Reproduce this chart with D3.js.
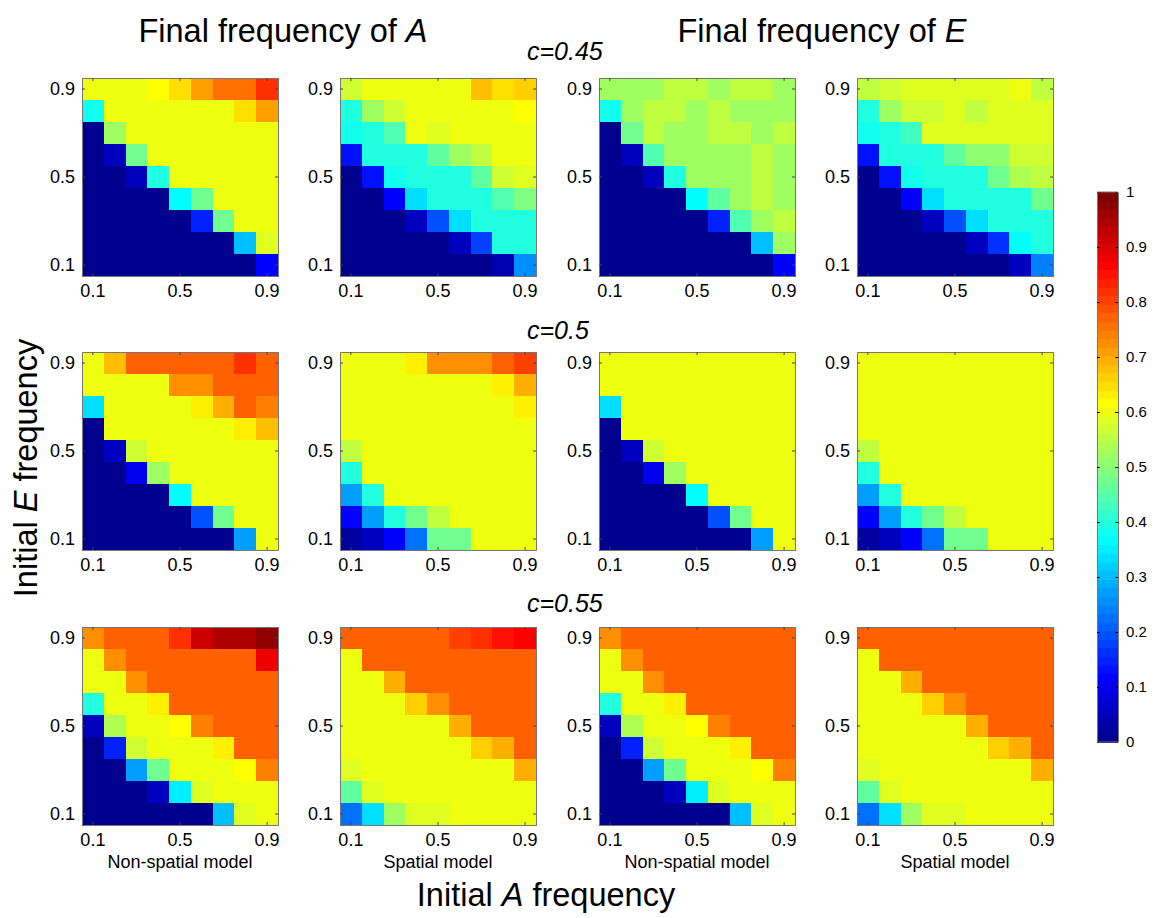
<!DOCTYPE html>
<html><head><meta charset="utf-8">
<script src="https://cdn.jsdelivr.net/npm/d3@7"></script>
<style>body{margin:0;background:#fff;} text{font-family:"Liberation Sans",Arial,sans-serif;}</style>
</head><body>
<svg id="chart" width="1164" height="918"></svg>
<script>
// ---- data (rows listed top to bottom: initial E = 0.9 ... 0.1; columns initial A = 0.1 ... 0.9)
const freqs = [0.1,0.2,0.3,0.4,0.5,0.6,0.7,0.8,0.9];
const tickVals = [0.1,0.5,0.9];
const cLabels = ["c=0.45","c=0.5","c=0.55"];
const modelLabels = ["Non-spatial model","Spatial model","Non-spatial model","Spatial model"];
const cbTicks = [0,0.1,0.2,0.3,0.4,0.5,0.6,0.7,0.8,0.9,1];

const A_nonSpatial_045 = [
 [0.60,0.60,0.60,0.62,0.65,0.71,0.75,0.75,0.82],
 [0.38,0.60,0.60,0.60,0.60,0.60,0.60,0.65,0.71],
 [0.00,0.52,0.60,0.60,0.60,0.60,0.60,0.60,0.60],
 [0.00,0.05,0.47,0.60,0.60,0.60,0.60,0.60,0.60],
 [0.00,0.00,0.05,0.40,0.60,0.60,0.60,0.60,0.60],
 [0.00,0.00,0.00,0.00,0.37,0.48,0.60,0.60,0.60],
 [0.00,0.00,0.00,0.00,0.00,0.15,0.48,0.60,0.60],
 [0.00,0.00,0.00,0.00,0.00,0.00,0.00,0.30,0.58],
 [0.00,0.00,0.00,0.00,0.00,0.00,0.00,0.00,0.12]];
const A_spatial_045 = [
 [0.57,0.60,0.60,0.60,0.60,0.60,0.68,0.65,0.67],
 [0.40,0.53,0.57,0.60,0.60,0.60,0.60,0.60,0.62],
 [0.39,0.40,0.44,0.60,0.58,0.60,0.60,0.60,0.60],
 [0.13,0.40,0.40,0.40,0.46,0.52,0.55,0.60,0.60],
 [0.00,0.13,0.38,0.40,0.40,0.40,0.46,0.57,0.58],
 [0.00,0.00,0.12,0.33,0.40,0.40,0.40,0.44,0.49],
 [0.00,0.00,0.00,0.05,0.20,0.33,0.40,0.40,0.40],
 [0.00,0.00,0.00,0.00,0.00,0.05,0.18,0.40,0.40],
 [0.00,0.00,0.00,0.00,0.00,0.00,0.00,0.04,0.25]];
const E_nonSpatial_045 = [
 [0.53,0.53,0.53,0.55,0.55,0.52,0.55,0.55,0.52],
 [0.38,0.52,0.55,0.55,0.52,0.55,0.52,0.52,0.52],
 [0.00,0.47,0.55,0.52,0.52,0.55,0.55,0.52,0.55],
 [0.00,0.05,0.45,0.52,0.52,0.52,0.52,0.55,0.52],
 [0.00,0.00,0.05,0.40,0.52,0.52,0.52,0.55,0.52],
 [0.00,0.00,0.00,0.00,0.37,0.46,0.52,0.55,0.52],
 [0.00,0.00,0.00,0.00,0.00,0.15,0.45,0.52,0.55],
 [0.00,0.00,0.00,0.00,0.00,0.00,0.00,0.30,0.52],
 [0.00,0.00,0.00,0.00,0.00,0.00,0.00,0.00,0.12]];
const E_spatial_045 = [
 [0.56,0.57,0.58,0.58,0.58,0.58,0.58,0.60,0.56],
 [0.40,0.52,0.57,0.57,0.58,0.56,0.58,0.58,0.58],
 [0.39,0.40,0.43,0.58,0.58,0.59,0.59,0.59,0.58],
 [0.13,0.40,0.40,0.40,0.46,0.50,0.51,0.57,0.57],
 [0.00,0.13,0.38,0.40,0.40,0.40,0.47,0.54,0.56],
 [0.00,0.00,0.12,0.33,0.40,0.40,0.40,0.40,0.48],
 [0.00,0.00,0.00,0.06,0.20,0.33,0.40,0.40,0.40],
 [0.00,0.00,0.00,0.00,0.00,0.06,0.17,0.37,0.40],
 [0.00,0.00,0.00,0.00,0.00,0.00,0.00,0.05,0.24]];
const A_nonSpatial_05 = [
 [0.60,0.68,0.78,0.78,0.78,0.78,0.78,0.82,0.78],
 [0.60,0.60,0.60,0.60,0.72,0.72,0.78,0.78,0.78],
 [0.33,0.60,0.60,0.60,0.60,0.64,0.70,0.78,0.74],
 [0.00,0.60,0.60,0.60,0.60,0.60,0.60,0.64,0.68],
 [0.00,0.05,0.57,0.60,0.60,0.60,0.60,0.60,0.60],
 [0.00,0.00,0.10,0.53,0.60,0.60,0.60,0.60,0.60],
 [0.00,0.00,0.00,0.00,0.37,0.60,0.60,0.60,0.60],
 [0.00,0.00,0.00,0.00,0.00,0.20,0.48,0.60,0.60],
 [0.00,0.00,0.00,0.00,0.00,0.00,0.00,0.28,0.60]];
const A_spatial_05 = [
 [0.60,0.60,0.60,0.64,0.72,0.72,0.72,0.78,0.80],
 [0.60,0.60,0.60,0.60,0.60,0.60,0.60,0.64,0.70],
 [0.60,0.60,0.60,0.60,0.60,0.60,0.60,0.60,0.64],
 [0.60,0.60,0.60,0.60,0.60,0.60,0.60,0.60,0.60],
 [0.56,0.60,0.60,0.60,0.60,0.60,0.60,0.60,0.60],
 [0.40,0.60,0.60,0.60,0.60,0.60,0.60,0.60,0.60],
 [0.28,0.40,0.60,0.60,0.60,0.60,0.60,0.60,0.60],
 [0.12,0.27,0.40,0.48,0.56,0.60,0.60,0.60,0.60],
 [0.03,0.06,0.12,0.22,0.48,0.48,0.60,0.60,0.60]];
const E_nonSpatial_05 = [
 [0.60,0.60,0.60,0.60,0.60,0.60,0.60,0.60,0.60],
 [0.60,0.60,0.60,0.60,0.60,0.60,0.60,0.60,0.60],
 [0.33,0.60,0.60,0.60,0.60,0.60,0.60,0.60,0.60],
 [0.00,0.60,0.60,0.60,0.60,0.60,0.60,0.60,0.60],
 [0.00,0.05,0.57,0.60,0.60,0.60,0.60,0.60,0.60],
 [0.00,0.00,0.10,0.53,0.60,0.60,0.60,0.60,0.60],
 [0.00,0.00,0.00,0.00,0.37,0.60,0.60,0.60,0.60],
 [0.00,0.00,0.00,0.00,0.00,0.20,0.48,0.60,0.60],
 [0.00,0.00,0.00,0.00,0.00,0.00,0.00,0.28,0.60]];
const E_spatial_05 = [
 [0.60,0.60,0.60,0.60,0.60,0.60,0.60,0.60,0.60],
 [0.60,0.60,0.60,0.60,0.60,0.60,0.60,0.60,0.60],
 [0.60,0.60,0.60,0.60,0.60,0.60,0.60,0.60,0.60],
 [0.60,0.60,0.60,0.60,0.60,0.60,0.60,0.60,0.60],
 [0.56,0.60,0.60,0.60,0.60,0.60,0.60,0.60,0.60],
 [0.40,0.60,0.60,0.60,0.60,0.60,0.60,0.60,0.60],
 [0.28,0.40,0.60,0.60,0.60,0.60,0.60,0.60,0.60],
 [0.12,0.27,0.40,0.48,0.56,0.60,0.60,0.60,0.60],
 [0.03,0.06,0.12,0.22,0.48,0.48,0.60,0.60,0.60]];
const A_nonSpatial_055 = [
 [0.72,0.78,0.78,0.78,0.82,0.92,0.95,0.95,0.98],
 [0.60,0.72,0.78,0.78,0.78,0.78,0.78,0.78,0.88],
 [0.60,0.60,0.72,0.78,0.78,0.78,0.78,0.78,0.78],
 [0.40,0.60,0.60,0.64,0.78,0.78,0.78,0.78,0.78],
 [0.06,0.54,0.60,0.60,0.62,0.74,0.78,0.78,0.78],
 [0.00,0.15,0.57,0.60,0.60,0.60,0.64,0.78,0.78],
 [0.00,0.00,0.28,0.47,0.60,0.60,0.60,0.62,0.74],
 [0.00,0.00,0.00,0.06,0.35,0.59,0.60,0.60,0.60],
 [0.00,0.00,0.00,0.00,0.00,0.00,0.30,0.59,0.60]];
const A_spatial_055 = [
 [0.78,0.78,0.78,0.78,0.78,0.80,0.82,0.85,0.87],
 [0.60,0.78,0.78,0.78,0.78,0.78,0.78,0.78,0.78],
 [0.60,0.60,0.69,0.78,0.78,0.78,0.78,0.78,0.78],
 [0.60,0.60,0.60,0.66,0.73,0.78,0.78,0.78,0.78],
 [0.60,0.60,0.60,0.60,0.60,0.69,0.78,0.78,0.78],
 [0.60,0.60,0.60,0.60,0.60,0.60,0.66,0.69,0.78],
 [0.59,0.60,0.60,0.60,0.60,0.60,0.60,0.60,0.70],
 [0.46,0.59,0.60,0.60,0.60,0.60,0.60,0.60,0.60],
 [0.22,0.33,0.52,0.59,0.59,0.60,0.60,0.60,0.60]];
const E_nonSpatial_055 = [
 [0.72,0.78,0.78,0.78,0.78,0.78,0.78,0.78,0.78],
 [0.60,0.72,0.78,0.78,0.78,0.78,0.78,0.78,0.78],
 [0.60,0.60,0.72,0.78,0.78,0.78,0.78,0.78,0.78],
 [0.40,0.60,0.60,0.64,0.78,0.78,0.78,0.78,0.78],
 [0.06,0.54,0.60,0.60,0.62,0.74,0.78,0.78,0.78],
 [0.00,0.15,0.57,0.60,0.60,0.60,0.64,0.78,0.78],
 [0.00,0.00,0.28,0.47,0.60,0.60,0.60,0.62,0.74],
 [0.00,0.00,0.00,0.06,0.35,0.59,0.60,0.60,0.60],
 [0.00,0.00,0.00,0.00,0.00,0.00,0.30,0.59,0.60]];
const E_spatial_055 = [
 [0.78,0.78,0.78,0.78,0.78,0.78,0.78,0.78,0.78],
 [0.60,0.78,0.78,0.78,0.78,0.78,0.78,0.78,0.78],
 [0.60,0.60,0.69,0.78,0.78,0.78,0.78,0.78,0.78],
 [0.60,0.60,0.60,0.66,0.73,0.78,0.78,0.78,0.78],
 [0.60,0.60,0.60,0.60,0.60,0.69,0.78,0.78,0.78],
 [0.60,0.60,0.60,0.60,0.60,0.60,0.66,0.69,0.78],
 [0.59,0.60,0.60,0.60,0.60,0.60,0.60,0.60,0.70],
 [0.46,0.59,0.60,0.60,0.60,0.60,0.60,0.60,0.60],
 [0.22,0.33,0.52,0.59,0.59,0.60,0.60,0.60,0.60]];

const panelRows = [
 [A_nonSpatial_045, A_spatial_045, E_nonSpatial_045, E_spatial_045],
 [A_nonSpatial_05,  A_spatial_05,  E_nonSpatial_05,  E_spatial_05],
 [A_nonSpatial_055, A_spatial_055, E_nonSpatial_055, E_spatial_055]];

// ---- MATLAB jet(64) colormap
function jetMap(n){
  const m = n/4, u = [];
  for(let i=1;i<=m;i++) u.push(i/m);
  for(let i=0;i<m-1;i++) u.push(1);
  for(let i=m;i>=1;i--) u.push(i/m);
  const gOff = Math.ceil(m/2) - (n%4===1?1:0);
  const J = Array.from({length:n},()=>[0,0,0]);
  u.forEach((val,k)=>{
    const g = gOff + k + 1, r = g + m, b = g - m;
    if(r<=n) J[r-1][0]=val;
    if(g>=1 && g<=n) J[g-1][1]=val;
    if(b>=1) J[b-1][2]=val;
  });
  return J.map(c=>d3.rgb(c[0]*255,c[1]*255,c[2]*255).toString());
}
const JET = jetMap(64);
const color = v => JET[Math.min(63, Math.max(0, Math.floor(v*64)))];

// ---- layout
const svg = d3.select("#chart");
const colX = [82, 340, 599, 857];
const rowY = [78, 352, 627];
const pw = 196, ph = 198;
const FONT = "Liberation Sans, Arial, sans-serif";

const x = d3.scaleBand().domain(freqs).range([0, pw]);
const y = d3.scaleBand().domain(freqs).range([ph, 0]);

panelRows.forEach((row, ri) => {
  row.forEach((mat, ci) => {
    const g = svg.append("g").attr("transform", `translate(${colX[ci]},${rowY[ri]})`);
    const cells = [];
    mat.forEach((r, i) => r.forEach((v, j) => cells.push({e: freqs[8-i], a: freqs[j], v})));
    g.selectAll("rect.cell").data(cells).join("rect")
      .attr("class","cell")
      .attr("shape-rendering","crispEdges")
      .attr("x", d => x(d.a)).attr("y", d => y(d.e))
      .attr("width", x.bandwidth()+1).attr("height", y.bandwidth()+1)
      .attr("fill", d => color(d.v));
    const tickFmt = d => d3.format(".1f")(d);
    const bottom = d3.axisBottom(x).tickValues(tickVals).tickSizeInner(-3).tickSizeOuter(0).tickPadding(8).tickFormat(tickFmt);
    const left = d3.axisLeft(y).tickValues(tickVals).tickSizeInner(-3).tickSizeOuter(0).tickPadding(7).tickFormat(tickFmt);
    const top = d3.axisTop(x).tickValues(tickVals).tickSizeInner(-3).tickSizeOuter(0).tickFormat("");
    const right = d3.axisRight(y).tickValues(tickVals).tickSizeInner(-3).tickSizeOuter(0).tickFormat("");
    const gb = g.append("g").attr("transform",`translate(0,${ph})`).call(bottom);
    const gl = g.append("g").call(left);
    const gt = g.append("g").call(top);
    const gr = g.append("g").attr("transform",`translate(${pw},0)`).call(right);
    [gb,gl,gt,gr].forEach(a => {
      a.select(".domain").attr("stroke","#777").attr("stroke-width",1);
      a.selectAll(".tick line").attr("stroke","#444");
      a.selectAll("text").attr("font-size",18).attr("fill","#000").style("font-family",FONT);
    });
    if(ri===2){
      g.append("text").attr("x", pw/2).attr("y", ph+43).attr("text-anchor","middle")
        .attr("font-size",18).text(modelLabels[ci]);
    }
  });
});

// column titles
const t1 = svg.append("text").attr("x",283).attr("y",42).attr("text-anchor","middle").attr("font-size",32.5);
t1.append("tspan").text("Final frequency of ");
t1.append("tspan").attr("font-style","italic").text("A");
const t2 = svg.append("text").attr("x",822).attr("y",42).attr("text-anchor","middle").attr("font-size",32.5);
t2.append("tspan").text("Final frequency of ");
t2.append("tspan").attr("font-style","italic").text("E");

// c labels
const cY = [60, 339, 612];
cLabels.forEach((s,i)=>{
  svg.append("text").attr("x",527).attr("y",cY[i]).attr("font-size",25)
    .attr("font-style","italic").text(s);
});

// axis titles
const yl = svg.append("text").attr("transform","translate(37,468) rotate(-90)")
  .attr("text-anchor","middle").attr("font-size",32.5);
yl.append("tspan").text("Initial ");
yl.append("tspan").attr("font-style","italic").text("E");
yl.append("tspan").text(" frequency");
const xl = svg.append("text").attr("x",546).attr("y",906).attr("text-anchor","middle").attr("font-size",32.5);
xl.append("tspan").text("Initial ");
xl.append("tspan").attr("font-style","italic").text("A");
xl.append("tspan").text(" frequency");

// colorbar
const cbX = 1097, cbW = 21;
const cbScale = d3.scaleLinear().domain([0,1]).range([742,192]);
const cbSteps = d3.range(64);
svg.append("g").selectAll("rect").data(cbSteps).join("rect")
  .attr("shape-rendering","crispEdges")
  .attr("x", cbX).attr("width", cbW)
  .attr("y", k => cbScale((k+1)/64)).attr("height", k => cbScale(k/64)-cbScale((k+1)/64)+1)
  .attr("fill", k => JET[k]);
const cbAxis = d3.axisRight(cbScale).tickValues(cbTicks).tickSizeInner(-3).tickSizeOuter(0).tickPadding(8)
  .tickFormat(d => d===0 ? "0" : d===1 ? "1" : d3.format(".1f")(d));
const gcb = svg.append("g").attr("transform",`translate(${cbX+cbW},0)`).call(cbAxis);
gcb.select(".domain").attr("stroke","#777");
gcb.selectAll("text").attr("font-size",15).style("font-family",FONT);
const cbLeft = d3.axisLeft(cbScale).tickValues(cbTicks).tickSizeInner(-3).tickSizeOuter(0).tickFormat("");
const gcl = svg.append("g").attr("transform",`translate(${cbX},0)`).call(cbLeft);
gcl.select(".domain").attr("stroke","#777");
svg.append("line").attr("x1",cbX).attr("x2",cbX+cbW).attr("y1",192).attr("y2",192).attr("stroke","#777");
svg.append("line").attr("x1",cbX).attr("x2",cbX+cbW).attr("y1",742).attr("y2",742).attr("stroke","#777");
</script>
</body></html>
